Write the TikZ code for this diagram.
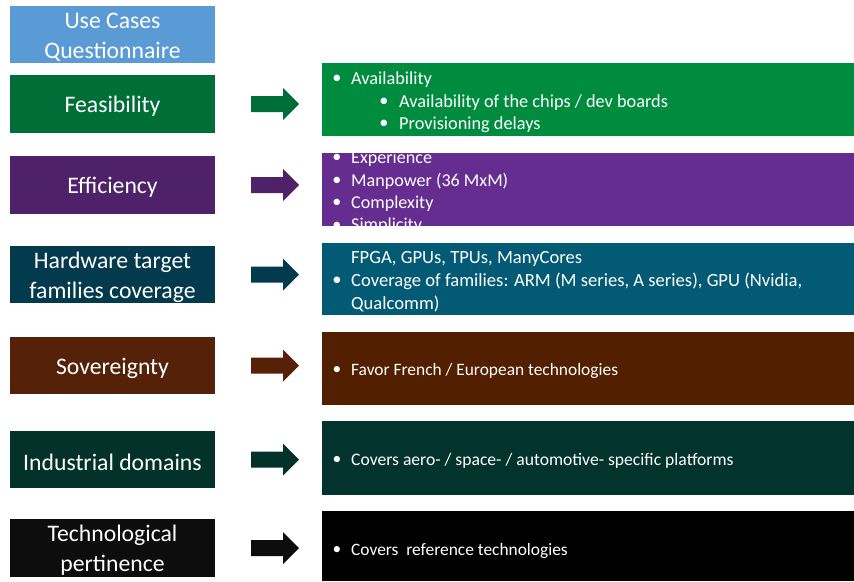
\documentclass[tikz,border=0pt]{standalone}
\usepackage{fontspec}
\setmainfont{Carlito}
\definecolor{qblue}{HTML}{5B9BD5}
\definecolor{feasL}{HTML}{006E37}
\definecolor{feasR}{HTML}{008C3F}
\definecolor{effL}{HTML}{4E2169}
\definecolor{effR}{HTML}{652D90}
\definecolor{hwL}{HTML}{033A4D}
\definecolor{hwR}{HTML}{025A74}
\definecolor{sovL}{HTML}{552209}
\definecolor{sovR}{HTML}{521F00}
\definecolor{indL}{HTML}{03322B}
\definecolor{indR}{HTML}{03332D}
\definecolor{techL}{HTML}{0D0D0D}
\definecolor{techR}{HTML}{000000}
\tikzset{
  catbox/.style={fill=#1, draw=none, minimum width=205pt, minimum height=58pt,
    inner sep=0pt},
  cattext/.style={label={[text=white, align=center, yshift=-2.5pt,
    font=\fontsize{23.7}{30}\selectfont]center:#1}},
  detbox/.style={fill=#1, draw=none, minimum width=532pt, inner sep=0pt},
  rsize/.store in=\rsize, rsize=17.4,
  rtext/.style={text=white, inner sep=0pt, anchor=west,
    font=\fontsize{\rsize}{22.5}\selectfont},
  rbullet/.style={text=white, inner sep=0pt,
    font=\fontsize{\rsize}{22.5}\selectfont},
  pics/blockarrow/.style={code={
    \fill[#1] (-24,-8) -- (8,-8) -- (8,-16) -- (24,0) -- (8,16) -- (8,8) -- (-24,8) -- cycle;}}
}
\begin{document}
\begin{tikzpicture}[x=1pt,y=-1pt]
\useasboundingbox[fill=white] (0,0) rectangle (854,581);

% category boxes (left column)
\node[catbox=qblue, minimum height=57pt, cattext={Use Cases\\Questionnaire}] (quest) at (112.5,34.5) {};
\node[catbox=feasL, cattext=Feasibility] (feas) at (112.5,104) {};
\node[catbox=effL, cattext=Efficiency] (eff) at (112.5,185) {};
\node[catbox=hwL, minimum height=57pt, cattext={Hardware target\\families coverage}] (hw) at (112.5,274.5) {};
\node[catbox=sovL, minimum height=57pt, cattext=Sovereignty] (sov) at (112.5,365.5) {};
\node[catbox=indL, minimum height=57pt, cattext=Industrial domains] (ind) at (112.5,459.5) {};
\node[catbox=techL, cattext={Technological\\pertinence}] (tech) at (112.5,548) {};

% block arrows
\pic at (275,104) {blockarrow=feasL};
\pic at (275,185) {blockarrow=effL};
\pic at (275,274.5) {blockarrow=hwL};
\pic at (275,365.5) {blockarrow=sovL};
\pic at (275,459.5) {blockarrow=indL};
\pic at (275,548) {blockarrow=techL};

% detail boxes (right column)
\node[detbox=feasR, minimum height=73pt] (feasd) at (588,99.5) {};
\node[detbox=effR, minimum height=73pt] (effd) at (588,189.5) {};
\node[detbox=hwR, minimum height=72pt] (hwd) at (588,279) {};
\node[detbox=sovR, minimum height=73pt] (sovd) at (588,368.5) {};
\node[detbox=indR, minimum height=74pt] (indd) at (588,458) {};
\node[detbox=techR, minimum height=70pt] (techd) at (588,546) {};

% feasibility details
\begin{scope}[rsize=18.3]
  \node[rbullet] (fb1) at (337,79.5) {•};
  \node[rtext] (ft1) at (351,79.5) {Availability};
  \node[rbullet] (fb2) at (384,102.5) {•};
  \node[rtext] (ft2) at (399,102.5) {Availability of the chips / dev boards};
  \node[rbullet] (fb3) at (384,124.5) {•};
  \node[rtext] (ft3) at (399,124.5) {Provisioning delays};
\end{scope}

% efficiency details, cut to the box
\begin{scope}[rsize=18.1]
  \clip (effd.north west) rectangle (effd.south east);
  \node[rbullet] (eb1) at (337,158.5) {•};
  \node[rtext] (et1) at (351,158.5) {Experience};
  \node[rbullet] (eb2) at (337,181) {•};
  \node[rtext] (et2) at (351,181) {Manpower (36 MxM)};
  \node[rbullet] (eb3) at (337,203.5) {•};
  \node[rtext] (et3) at (351,203.5) {Complexity};
  \node[rbullet] (eb4) at (337,226) {•};
  \node[rtext] (et4) at (351,226) {Simplicity};
\end{scope}

% hardware details
\begin{scope}[rsize=18.6]
  \node[rtext] (ht1) at (351,258.5) {FPGA, GPUs, TPUs, ManyCores};
  \node[rbullet] (hb2) at (337,281.5) {•};
  \node[rtext] (ht2) at (351,281.5) {Coverage of families: ARM (M series, A series), GPU (Nvidia,};
  \node[rtext] (ht3) at (351,303.5) {Qualcomm)};
\end{scope}

% sovereignty details
\node[rbullet] (sb1) at (337,370.5) {•};
\node[rtext] (st1) at (351,370.5) {Favor French / European technologies};

% industrial domain details
\begin{scope}[rsize=17.6]
  \node[rbullet] (ib1) at (337,460.5) {•};
  \node[rtext] (it1) at (351,460.5) {Covers aero- / space- / automotive- specific platforms};
\end{scope}

% technological pertinence details
\node[rbullet] (tb1) at (337,550.5) {•};
\node[rtext] (tt1) at (351,550.5) {Covers\ \ reference technologies};
\end{tikzpicture}
\end{document}
